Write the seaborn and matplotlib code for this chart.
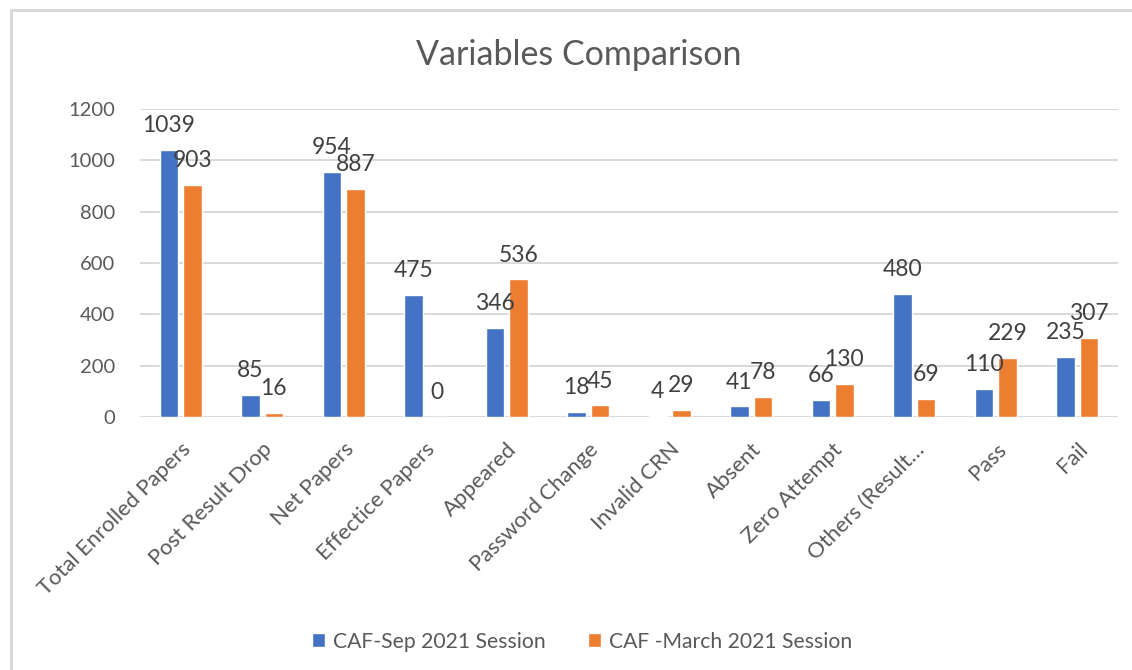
import pandas as pd
import matplotlib.pyplot as plt
import seaborn as sns
from matplotlib.lines import Line2D

# Chart data
categories = ['Total Enrolled Papers', 'Post Result Drop', 'Net Papers', 'Effectice Papers',
              'Appeared', 'Password Change', 'Invalid CRN', 'Absent', 'Zero Attempt',
              'Others (Result\u2026', 'Pass', 'Fail']
sep_2021 = [1039, 85, 954, 475, 346, 18, 4, 41, 66, 480, 110, 235]
march_2021 = [903, 16, 887, 0, 536, 45, 29, 78, 130, 69, 229, 307]
series_names = ['CAF-Sep 2021 Session', 'CAF -March 2021 Session']
y_ticks = [0, 200, 400, 600, 800, 1000, 1200]

df = pd.DataFrame({
    'Variable': categories * 2,
    'Value': sep_2021 + march_2021,
    'Session': [series_names[0]] * len(categories) + [series_names[1]] * len(categories),
})

sns.set_style('white')
plt.rcParams['font.family'] = ['Lato', 'DejaVu Sans']
text_col = '#595959'
grid_col = '#d9d9d9'

fig = plt.figure(figsize=(11.32, 6.70), dpi=100)
ax = fig.add_axes([0.1235, 0.3776, 0.864, 0.4597])

sns.barplot(data=df, x='Variable', y='Value', hue='Session',
            palette=['#4472C4', '#ED7D31'], width=0.577, gap=0.21,
            saturation=1, ax=ax)

# data labels
for cont in ax.containers:
    ax.bar_label(cont, padding=10, fontsize=16.5, color='#404040')

# axes styling
ax.set_ylim(0, 1200)
ax.set_yticks(y_ticks)
ax.set_xlim(-0.5, len(categories) - 0.5)
ax.set_xlabel('')
ax.set_ylabel('')
ax.yaxis.grid(True, color=grid_col, linewidth=1.4)
ax.set_axisbelow(True)
for s in ax.spines.values():
    s.set_visible(False)
ax.tick_params(axis='y', length=0, pad=18, labelsize=14.5, labelcolor=text_col)
ax.tick_params(axis='x', length=0, pad=16, labelsize=15.8, labelcolor=text_col)
for lab in ax.get_xticklabels():
    lab.set_rotation(45)
    lab.set_ha('right')
    lab.set_rotation_mode('anchor')

# legend at the bottom
handles, labels = ax.get_legend_handles_labels()
ax.get_legend().remove()
fig.legend(handles, labels, loc='center', bbox_to_anchor=(0.514, 0.042), ncol=2,
           frameon=False, fontsize=15.2, labelcolor=text_col, handlelength=0.65,
           handleheight=0.65, handletextpad=0.35, columnspacing=2.0)

# title
fig.text(0.511, 0.918, 'Variables Comparison', ha='center', va='center',
         fontsize=24.5, color=text_col)

# chart frame (only left and top edges visible in the crop)
fig.add_artist(Line2D([10.5 / 1132, 10.5 / 1132], [0, 1 - 9.5 / 670], color=grid_col, lw=2.2,
                      transform=fig.transFigure))
fig.add_artist(Line2D([10.5 / 1132, 1], [1 - 9.5 / 670, 1 - 9.5 / 670], color=grid_col, lw=2.2,
                      transform=fig.transFigure))

plt.savefig('out.png', dpi=100)
